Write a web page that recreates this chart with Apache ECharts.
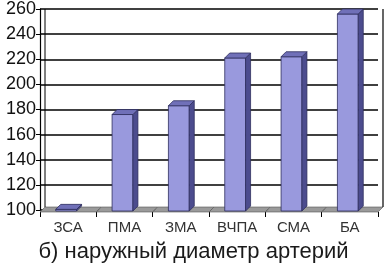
<!DOCTYPE html>
<html>
<head>
<meta charset="utf-8"/>
<title>наружный диаметр артерий</title>
<script src="https://cdn.jsdelivr.net/npm/echarts@6/dist/echarts.min.js"></script>
<style>
  html, body { margin: 0; padding: 0; background: #fff; }
  #main { width: 387px; height: 266px; }
</style>
</head>
<body>
<div id="main"></div>
<script>
// data
var categories = ['ЗСА', 'ПМА', 'ЗМА', 'ВЧПА', 'СМА', 'БА'];
var diameters = [100.5, 176, 183, 221, 222, 256];
var yMin = 100, yMax = 260, yStep = 20;
var title = 'б) наружный диаметр артерий';

var depth = 5; // fake 3d offset, px

var chart = echarts.init(document.getElementById('main'));

function floorItem(params, api) {
    var c = api.coord([api.value(0), yMin]);
    var t = api.coord([api.value(0), yMax]);
    var half = api.size([1, 0])[0] / 2;
    var l = c[0] - half, r = c[0] + half, y = c[1] + 2;
    var kids = [{
        type: 'polygon',
        shape: { points: [[l, y], [r, y], [r + depth, y - depth], [l + depth, y - depth]] },
        style: { fill: '#9a9a9a', stroke: '#555', lineWidth: 0.6 }
    }];
    // back wall edges
    if (params.dataIndex === categories.length - 1) {
        kids.push({ type: 'line', shape: { x1: r + depth, y1: t[1], x2: r + depth, y2: y - depth },
            style: { stroke: '#000', lineWidth: 1.2 } });
    }
    if (params.dataIndex === 0) {
        kids.push({ type: 'line', shape: { x1: l + depth, y1: t[1], x2: l + depth, y2: y - depth },
            style: { stroke: '#000', lineWidth: 1 } });
    }
    return { type: 'group', children: kids };
}

function barItem(params, api) {
    var base = api.coord([api.value(0), yMin]);
    var top = api.coord([api.value(0), api.value(1)]);
    var w = api.size([1, 0])[0] * 0.37;
    var x0 = top[0] - w / 2 - 2, x1 = x0 + w;
    var yb = base[1] + 1, yt = top[1];
    return {
        type: 'group',
        children: [
            { type: 'rect', shape: { x: x0, y: yt, width: w, height: yb - yt },
              style: { fill: '#9999dd', stroke: '#2e2e5e', lineWidth: 0.8 } },
            { type: 'polygon', shape: { points: [[x1, yt], [x1 + depth, yt - depth], [x1 + depth, yb - depth], [x1, yb]] },
              style: { fill: '#4c4c8e', stroke: '#2e2e5e', lineWidth: 0.8 } },
            { type: 'polygon', shape: { points: [[x0, yt], [x0 + depth, yt - depth], [x1 + depth, yt - depth], [x1, yt]] },
              style: { fill: '#7070b8', stroke: '#2e2e5e', lineWidth: 0.8 } }
        ]
    };
}

var option = {
    animation: false,
    backgroundColor: '#fff',
    title: {
        text: title, left: 'center', top: 241, padding: 0,
        textStyle: { fontFamily: 'Liberation Sans', fontSize: 22, fontWeight: 'normal', color: '#1a1a1a' }
    },
    grid: { left: 40, right: 9, top: 7, bottom: 56 },
    xAxis: {
        type: 'category', data: categories,
        axisLine: { show: false },
        axisTick: { show: true, alignWithLabel: false, length: 5, lineStyle: { color: '#000' } },
        axisLabel: { fontFamily: 'Liberation Sans', fontSize: 15, color: '#333', margin: 8 },
        offset: 2
    },
    yAxis: {
        type: 'value', min: yMin, max: yMax, interval: yStep,
        axisLine: { show: true, lineStyle: { color: '#000', width: 1.2 } },
        axisTick: { show: true, length: 4, lineStyle: { color: '#000' } },
        axisLabel: { fontFamily: 'Liberation Sans', fontSize: 18, color: '#111', margin: 4 },
        splitLine: { show: true, lineStyle: { color: '#000', width: 1.5 } }
    },
    series: [
        { type: 'custom', renderItem: floorItem, data: categories.map(function (c, i) { return [i, yMin]; }), z: 2 },
        { type: 'custom', renderItem: barItem, data: diameters.map(function (v, i) { return [i, v]; }), z: 3 }
    ]
};
chart.setOption(option);
</script>
</body>
</html>
